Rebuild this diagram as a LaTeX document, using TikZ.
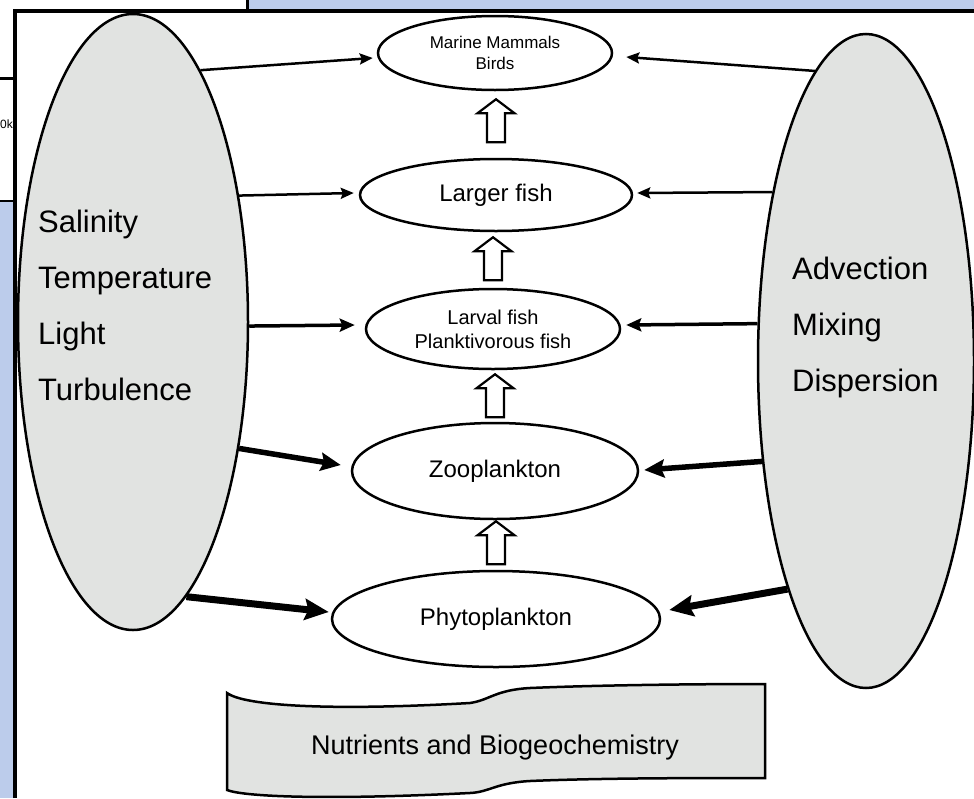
\documentclass[tikz,border=0pt]{standalone}
\usepackage{fontspec}
\setmainfont{Liberation Sans}
\usetikzlibrary{arrows.meta,calc,shapes.geometric}
\definecolor{panelblue}{RGB}{188,204,235}
\definecolor{softgray}{RGB}{225,227,225}

% hollow upward block arrow between two stacked ovals:
% #1 lower node, #2 upper node, #3 gap below the upper node
\newcommand\liftarrow[3]{%
  \path[hollow] let \p1=(#1.north), \p2=($(#2.south)+(0,#3)$) in
    (\x1-9pt,\y2-43pt) -- (\x1-9pt,\y2-14pt) -- (\x1-18.5pt,\y2-14pt) --
    (\x1,\y2) -- (\x1+18.5pt,\y2-14pt) -- (\x1+9pt,\y2-14pt) --
    (\x1+9pt,\y2-43pt) -- cycle;}

\begin{document}
\begin{tikzpicture}[x=1pt,y=-1pt,
  bigoval/.style={ellipse, draw, line width=2.5pt, fill=softgray, inner sep=0pt},
  oval/.style={ellipse, draw, line width=2.5pt, fill=white, inner sep=0pt, align=center},
  sidetext/.style={align=left, font=\fontsize{31}{56}\selectfont, inner sep=0pt},
  hollow/.style={draw, line width=2.2pt, fill=white, line join=miter},
  feedA/.style={line width=2.5pt, -{Stealth[length=13pt, width=11pt, inset=2pt]}},
  feedB/.style={line width=3.5pt, -{Stealth[length=15pt, width=13pt, inset=2.5pt]}},
  feedC/.style={line width=5.5pt, -{Stealth[length=20pt, width=18pt, inset=3pt]}},
  feedD/.style={line width=7pt, -{Stealth[length=24pt, width=21pt, inset=3.5pt]}},
]
\useasboundingbox (0,0) rectangle (974,798);

% surrounding page pieces
\fill[white] (0,0) rectangle (974,798);
\fill[panelblue] (249,0) rectangle (974,9.5);
\fill[panelblue] (0,202) rectangle (13,798);
\draw[line width=3pt] (247.5,0) -- (247.5,10);
\draw[line width=3pt] (0,78.5) -- (13,78.5);
\draw[line width=1.5pt] (0,201) -- (13,201);
\node[anchor=west, font=\fontsize{12}{12}\selectfont, inner sep=0pt] (cutlabel) at (0,124) {0k};

% frame of the figure
\draw[line width=3.5pt, line join=miter] (15,798) -- (15,11) -- (974,11);

% environmental drivers
\node[bigoval, minimum width=230pt, minimum height=616pt] (env) at (133,322) {};
\node[bigoval, minimum width=216pt, minimum height=654pt] (phys) at (866,361) {};
\node[sidetext, anchor=west] (envtxt) at (38,305) {Salinity\\Temperature\\Light\\Turbulence};
\node[sidetext, anchor=west] (phystxt) at (792,327) {Advection\\Mixing\\Dispersion};

% food web levels
\node[oval, minimum width=234pt, minimum height=74pt, font=\fontsize{17}{21}\selectfont] (mm) at (495,53) {Marine Mammals\\Birds};
\node[oval, minimum width=272pt, minimum height=72pt, font=\fontsize{24}{28}\selectfont] (lf) at (496,195) {Larger fish};
\node[oval, minimum width=254pt, minimum height=80pt, font=\fontsize{20}{24}\selectfont] (lv) at (493,329) {Larval fish\\Planktivorous fish};
\node[oval, minimum width=286pt, minimum height=96pt, font=\fontsize{24}{28}\selectfont] (zp) at (495,471) {Zooplankton};
\node[oval, minimum width=328pt, minimum height=96pt, font=\fontsize{24}{28}\selectfont] (ph) at (496,619) {Phytoplankton};

% trophic transfer
\liftarrow{lf}{mm}{8}
\liftarrow{lv}{lf}{5}
\liftarrow{zp}{lv}{4}
\liftarrow{ph}{zp}{1}

% physical forcing on each level
\draw[feedA] (env.75) -- ($(mm.west)+(-4,5)$);
\draw[feedA] (phys.100) -- ($(mm.east)+(13,4)$);
\draw[feedA] (env.50) -- ($(lf.west)+(-5,-2)$);
\draw[feedA] (phys.119) -- ($(lf.east)+(4,-2)$);
\draw[feedB] (env.358) -- ($(lv.west)+(-10,-4)$);
\draw[feedB] (phys.161) -- ($(lv.east)+(5,-4)$);
\draw[feedC] (env.310) -- ($(zp.west)+(-10,-6)$);
\draw[feedC] (phys.224) -- ($(zp.east)+(5,-1)$);
\draw[feedD] (env.281) -- ($(ph.west)+(-2,-7)$);
\draw[feedD] (phys.251) -- ($(ph.east)+(8,-9)$);

% nutrient banner
\draw[line width=2.5pt, fill=softgray, line join=miter]
  (227,693) .. controls (245,706) and (330,711) .. (470,703)
  .. controls (490,700) and (495,690) .. (530,688)
  .. controls (600,685) and (700,684) .. (765,684)
  -- (765,778)
  .. controls (700,778) and (600,778) .. (530,781)
  .. controls (495,783) and (490,792) .. (470,793)
  .. controls (330,800) and (245,797) .. (227,790) -- cycle;
\node[font=\fontsize{27}{30}\selectfont, inner sep=0pt] (nutr) at (495,748) {Nutrients and Biogeochemistry};
\end{tikzpicture}
\end{document}
